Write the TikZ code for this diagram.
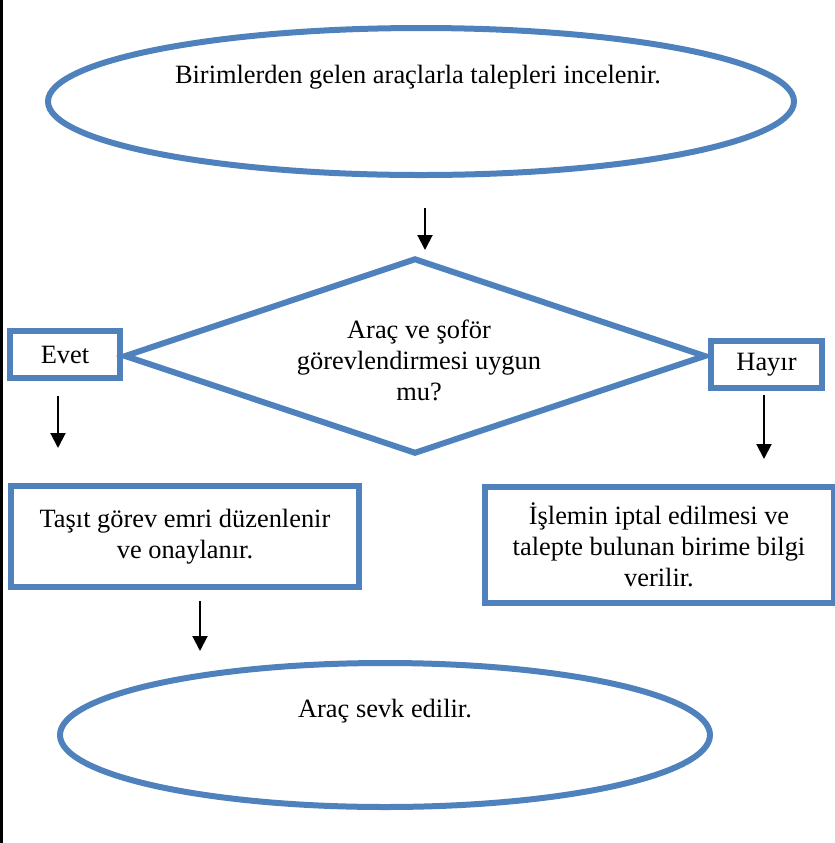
\documentclass[tikz,border=0pt]{standalone}
\usepackage{fontspec}
\setmainfont{Liberation Serif}
\usetikzlibrary{calc,shapes.geometric,arrows.meta}
\definecolor{boxblue}{RGB}{79,129,189}

\begin{document}
\begin{tikzpicture}[x=0.5pt,y=-0.5pt,
    every node/.style={font=\fontsize{13.2}{15.5}\selectfont, align=center},
    flowline/.style={draw=boxblue, line width=3pt, inner sep=0pt},
    arr/.style={-{Triangle[length=7.5pt,width=7.5pt]}, line width=1pt}]
    \useasboundingbox (0,0) rectangle (835,843);
    % left page border
    \draw[line width=1.5pt] (1.5,0) -- (1.5,843);
    % Draw start ellipse
    \node[ellipse, flowline, minimum width=373pt, minimum height=73.5pt] (start) at (421,101.5) {};
    \node (starttxt) at (418,77) {Birimlerden gelen araçlarla talepleri incelenir.};
    % Draw decision diamond
    \node[diamond, flowline, minimum width=291pt, minimum height=98pt] (check) at (415,356) {};
    \node (checktxt) at (419,360) {Araç ve şoför\\ görevlendirmesi uygun\\ mu?};
    % Draw yes / no boxes
    \node[rectangle, flowline, minimum width=55pt, minimum height=23.5pt] (evet) at (65,354.5) {Evet};
    \node[rectangle, flowline, minimum width=55.5pt, minimum height=23.5pt] (hayir) at (766.5,364.5) {Hayır};
    \node[rectangle, flowline, minimum width=174pt, minimum height=50.5pt] (tasit) at (185,536.5) {Taşıt görev emri düzenlenir\\ ve onaylanır.};
    \node[rectangle, flowline, minimum width=174.5pt, minimum height=58pt] (iptal) at (659,545) {İşlemin iptal edilmesi ve\\ talepte bulunan birime bilgi\\ verilir.};
    % Draw end ellipse
    \node[ellipse, flowline, minimum width=325pt, minimum height=72pt] (sevk) at (385,735) {};
    \node (sevktxt) at (385,711) {Araç sevk edilir.};
    % Draw arrows
    \draw[arr] ($(start.south)+(4,30)$) -- ($(check.north)+(10,-5)$);
    \draw[arr] ($(evet.south)+(-7,15)$) -- +(0,52);
    \draw[arr] ($(hayir.south)+(-2.5,4)$) -- +(0,64);
    \draw[arr] ($(tasit.south)+(15,11)$) -- +(0,50);
\end{tikzpicture}
\end{document}
